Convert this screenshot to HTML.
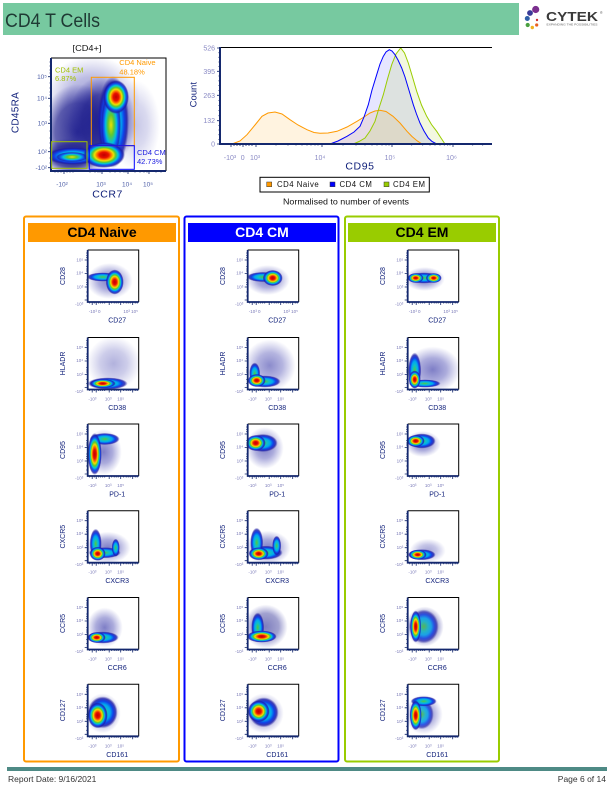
<!DOCTYPE html>
<html><head><meta charset="utf-8">
<style>
html,body{margin:0;padding:0;background:#fff;}
body{width:611px;height:790px;overflow:hidden;}
svg{display:block;}
text{font-family:"Liberation Sans",sans-serif;}
.yt{font-size:4.5px;fill:#7a7ab8;text-anchor:end;}
.xt{font-size:4.5px;fill:#7a7ab8;text-anchor:middle;}
.al{font-size:7px;fill:#10207a;text-anchor:middle;}
.bt{font-size:6.5px;fill:#5060a8;}
.ht{font-size:7px;fill:#8a8ac4;}
</style></head>
<body>
<svg width="611" height="790" viewBox="0 0 611 790" xmlns="http://www.w3.org/2000/svg">
<defs>
<radialGradient id="h">
<stop offset="0" stop-color="#c00000"/>
<stop offset="0.22" stop-color="#e81000"/>
<stop offset="0.34" stop-color="#ff7000"/>
<stop offset="0.45" stop-color="#f0e000"/>
<stop offset="0.56" stop-color="#60c830"/>
<stop offset="0.67" stop-color="#00c8d8"/>
<stop offset="0.78" stop-color="#1050f0"/>
<stop offset="0.9" stop-color="#1a1aa8" stop-opacity="0.8"/>
<stop offset="1" stop-color="#2a2aa0" stop-opacity="0"/>
</radialGradient>
<radialGradient id="c">
<stop offset="0" stop-color="#50c840"/>
<stop offset="0.3" stop-color="#10c0c8"/>
<stop offset="0.5" stop-color="#00a8f0"/>
<stop offset="0.7" stop-color="#1040e8"/>
<stop offset="0.86" stop-color="#1a1aa8" stop-opacity="0.8"/>
<stop offset="1" stop-color="#2a2aa0" stop-opacity="0"/>
</radialGradient>
<radialGradient id="m">
<stop offset="0" stop-color="#f0e000"/>
<stop offset="0.3" stop-color="#60c830"/>
<stop offset="0.55" stop-color="#00c0e0"/>
<stop offset="0.75" stop-color="#1050f0"/>
<stop offset="0.9" stop-color="#1a1aa8" stop-opacity="0.7"/>
<stop offset="1" stop-color="#2a2aa0" stop-opacity="0"/>
</radialGradient>
<radialGradient id="n">
<stop offset="0" stop-color="#2828a0" stop-opacity="0.6"/>
<stop offset="0.5" stop-color="#3030a8" stop-opacity="0.4"/>
<stop offset="1" stop-color="#4040b0" stop-opacity="0"/>
</radialGradient>
<radialGradient id="nd">
<stop offset="0" stop-color="#1c1c8c" stop-opacity="0.95"/>
<stop offset="0.6" stop-color="#22228f" stop-opacity="0.7"/>
<stop offset="1" stop-color="#3030a0" stop-opacity="0"/>
</radialGradient>
<clipPath id="cp"><rect x="0" y="0" width="51" height="52"/></clipPath>
<clipPath id="cpb"><rect x="51" y="58" width="115" height="113"/></clipPath>
<g id="ax">
<path d="M0,0H51V52" fill="none" stroke="#000" stroke-width="1"/>
<path d="M0,0V52H51" fill="none" stroke="#14286e" stroke-width="1.8"/>
<path d="M0,10h-3M0,23.5h-3M0,37h-3M0,50h-3M0,3h-1.5M0,5.5h-1.5M0,7.5h-1.5M0,16.5h-1.5M0,19h-1.5M0,21h-1.5M0,30h-1.5M0,32.5h-1.5M0,34.5h-1.5M0,42h-1.5M0,46h-1.5M4.5,52v3M8.5,52v3M21.5,52v3M33,52v3M45,52v3M2,52v1.5M6.5,52v1.5M11,52v1.5M13,52v1.5M15,52v1.5M17,52v1.5M24,52v1.5M26.5,52v1.5M28.5,52v1.5M30.5,52v1.5M36,52v1.5M38.5,52v1.5M40.5,52v1.5M42.5,52v1.5M47.5,52v1.5M49.5,52v1.5" stroke="#14286e" stroke-width="0.8"/>
</g>
</defs>

<!-- Header -->
<rect x="3" y="3" width="516" height="32" fill="#77c9a0"/>
<text x="5" y="27" font-size="19" fill="#1f3a34" textLength="95" lengthAdjust="spacingAndGlyphs">CD4 T Cells</text>
<!-- Logo -->
<circle cx="535.7" cy="9.5" r="3.6" fill="#7b2f8e"/>
<circle cx="530" cy="13" r="2.9" fill="#3b3b98"/>
<circle cx="527.3" cy="18.5" r="2.5" fill="#2f5fa8"/>
<circle cx="527.7" cy="25" r="2.1" fill="#4aa040"/>
<circle cx="532.3" cy="27.5" r="1.7" fill="#f0b020"/>
<circle cx="536.7" cy="25" r="1.6" fill="#e86020"/>
<circle cx="537" cy="20" r="1.2" fill="#d03030"/>
<text x="546" y="21" font-size="12.5" font-weight="bold" fill="#3a3a3a" textLength="52" lengthAdjust="spacingAndGlyphs">CYTEK</text>
<text x="600" y="14" font-size="3.5" fill="#555">®</text>
<text x="546.5" y="25.5" font-size="2.6" fill="#666" textLength="51" lengthAdjust="spacingAndGlyphs">EXPANDING THE POSSIBILITIES</text>

<!-- Big dot plot -->
<text x="87" y="51" font-size="8.5" fill="#111" text-anchor="middle" textLength="29" lengthAdjust="spacingAndGlyphs">[CD4+]</text>
<g clip-path="url(#cpb)">
<ellipse cx="92" cy="98" rx="48" ry="42" fill="url(#n)" opacity="0.8"/>
<ellipse cx="78" cy="132" rx="38" ry="48" fill="url(#nd)"/>
<ellipse cx="102" cy="122" rx="34" ry="46" fill="url(#nd)"/>
<ellipse cx="70" cy="156" rx="30" ry="18" fill="url(#nd)"/>
<ellipse cx="135" cy="125" rx="25" ry="45" fill="url(#n)" opacity="0.45"/>
<ellipse cx="73" cy="156" rx="27" ry="9" fill="url(#c)"/>
<ellipse cx="72" cy="157" rx="16" ry="5" fill="url(#m)"/>
<ellipse cx="113" cy="122" rx="16" ry="46" fill="url(#c)"/>
<ellipse cx="111" cy="125" rx="10" ry="34" fill="url(#m)"/>
<ellipse cx="116" cy="97" rx="13" ry="17" fill="url(#h)"/>
<ellipse cx="104" cy="155" rx="21" ry="13" fill="url(#h)"/>
</g>
<path d="M51,58H166V171" fill="none" stroke="#000" stroke-width="1"/>
<path d="M51,58V171H166" fill="none" stroke="#14286e" stroke-width="2"/>
<path d="M51,76.7h-3M51,98.3h-3M51,123.3h-3M51,151.7h-3M51,167.7h-3M51,62h-1.5M51,66h-1.5M51,70h-1.5M51,73h-1.5M51,83h-1.5M51,88h-1.5M51,92h-1.5M51,95h-1.5M51,106h-1.5M51,112h-1.5M51,117h-1.5M51,120h-1.5M51,131h-1.5M51,138h-1.5M51,143h-1.5M51,148h-1.5M51,158h-1.5M51,163h-1.5M64,171v3M102,171v3M128,171v3M149,171v3M55,171v1.5M58,171v1.5M61,171v1.5M67,171v1.5M70,171v1.5M73,171v1.5M90,171v1.5M95,171v1.5M98,171v1.5M100,171v1.5M110,171v1.5M115,171v1.5M120,171v1.5M124,171v1.5M126,171v1.5M135,171v1.5M140,171v1.5M144,171v1.5M147,171v1.5M156,171v1.5M161,171v1.5" stroke="#14286e" stroke-width="0.8"/>
<rect x="51.7" y="141.7" width="35.3" height="26.6" fill="none" stroke="#a0c000" stroke-width="1"/>
<rect x="91.3" y="77.3" width="43" height="68.4" fill="none" stroke="#ff9900" stroke-width="1"/>
<rect x="89.3" y="145.7" width="45" height="23.6" fill="none" stroke="#0000ff" stroke-width="1"/>
<text x="55" y="72.3" font-size="7.5" fill="#a0c000">CD4 EM</text>
<text x="55" y="81" font-size="7.5" fill="#a0c000">6.87%</text>
<text x="119.3" y="65" font-size="7.5" fill="#ff9900">CD4 Naive</text>
<text x="119.3" y="74.3" font-size="7.5" fill="#ff9900">48.18%</text>
<text x="137" y="155" font-size="7.5" fill="#2020e0">CD4 CM</text>
<text x="137" y="164" font-size="7.5" fill="#2020e0">42.73%</text>
<text class="bt" x="47" y="79" text-anchor="end">10⁵</text>
<text class="bt" x="47" y="100.5" text-anchor="end">10⁴</text>
<text class="bt" x="47" y="125.5" text-anchor="end">10³</text>
<text class="bt" x="47" y="154" text-anchor="end">10²</text>
<text class="bt" x="47" y="170" text-anchor="end">-10²</text>
<text class="bt" x="62" y="186.5" text-anchor="middle">-10²</text>
<text class="bt" x="101" y="186.5" text-anchor="middle">10³</text>
<text class="bt" x="127" y="186.5" text-anchor="middle">10⁴</text>
<text class="bt" x="148" y="186.5" text-anchor="middle">10⁵</text>
<text x="107.5" y="197.5" font-size="10.5" fill="#10207a" text-anchor="middle" letter-spacing="0.5">CCR7</text>
<text transform="translate(18.5,112.5) rotate(-90)" font-size="10" fill="#10207a" text-anchor="middle" letter-spacing="0.3">CD45RA</text>

<!-- Histogram -->
<polygon points="232,144 240,141 247,134.7 255,125 262,116.3 268,113 275,112 282,114 290,119.7 298,125 307,129.7 314,132.5 320,133.3 328,133 337,131.3 347,127 357,121.3 364,117 370,113 375,111 380,110.3 386,111.5 393,116.3 400,123 407,131.3 412,136.5 417,140.7 422,144" fill="#ffb030" fill-opacity="0.15"/>
<polygon points="330,144 338,141 347,136.3 354,132 360,126.3 364,117 368.3,104.7 372,90 376.7,74.7 380,64 383.3,56.3 386,52 389.3,49.7 392,51 395,54.7 398,60 401.7,68 405,77 408.3,88 411,97 413.3,104.7 416.5,114 420,123 424,131 428.3,138 432,141.5 436.7,144" fill="#4040ff" fill-opacity="0.13"/>
<polygon points="353.3,144 359,141.5 365,138 370,131 375,121.3 379,108 383.3,94.7 387.5,79 391.7,64.7 396,54 400.7,48 404.5,53 408.3,63 412.5,77 416.7,91.3 421.5,105 426.7,116.3 431.5,124.5 436.7,131.3 441,138 445,144" fill="#b0d030" fill-opacity="0.15"/>
<polyline points="232,144 240,141 247,134.7 255,125 262,116.3 268,113 275,112 282,114 290,119.7 298,125 307,129.7 314,132.5 320,133.3 328,133 337,131.3 347,127 357,121.3 364,117 370,113 375,111 380,110.3 386,111.5 393,116.3 400,123 407,131.3 412,136.5 417,140.7 422,144" fill="none" stroke="#ff9900" stroke-width="1"/>
<polyline points="353.3,144 359,141.5 365,138 370,131 375,121.3 379,108 383.3,94.7 387.5,79 391.7,64.7 396,54 400.7,48 404.5,53 408.3,63 412.5,77 416.7,91.3 421.5,105 426.7,116.3 431.5,124.5 436.7,131.3 441,138 445,144" fill="none" stroke="#99cc00" stroke-width="1"/>
<polyline points="330,144 338,141 347,136.3 354,132 360,126.3 364,117 368.3,104.7 372,90 376.7,74.7 380,64 383.3,56.3 386,52 389.3,49.7 392,51 395,54.7 398,60 401.7,68 405,77 408.3,88 411,97 413.3,104.7 416.5,114 420,123 424,131 428.3,138 432,141.5 436.7,144" fill="none" stroke="#0000ff" stroke-width="1"/>
<path d="M220,47.5H492" stroke="#000" stroke-width="1"/>
<path d="M220,47V144H492" fill="none" stroke="#14286e" stroke-width="2"/>
<path d="M220,48h-3M220,71.3h-3M220,95.3h-3M220,120.7h-3M220,144h-3M220,52.7h-1.5M220,57.3h-1.5M220,62h-1.5M220,66.6h-1.5M220,76h-1.5M220,80.8h-1.5M220,85.6h-1.5M220,90.4h-1.5M220,100.4h-1.5M220,105.5h-1.5M220,110.6h-1.5M220,115.7h-1.5M220,125.4h-1.5M220,130h-1.5M220,134.7h-1.5M220,139.4h-1.5M231,144v3M243,144v3M256,144v3M322,144v3M392,144v3M453,144v3M234,144v2M237,144v2M240,144v2M246,144v2M249,144v2M252,144v2M276,144v1.5M288,144v1.5M296,144v1.5M302,144v1.5M307,144v1.5M311,144v1.5M315,144v1.5M318,144v1.5M343,144v1.5M356,144v1.5M365,144v1.5M372,144v1.5M377,144v1.5M382,144v1.5M386,144v1.5M389,144v1.5M411.7,144v1.5M422.7,144v1.5M430,144v1.5M435,144v1.5M440,144v1.5M444.3,144v1.5M447.7,144v1.5M450,144v1.5M472.7,144v1.5M482.7,144v1.5" stroke="#14286e" stroke-width="0.8"/>
<text class="ht" x="215" y="50.5" text-anchor="end">526</text>
<text class="ht" x="215" y="73.8" text-anchor="end">395</text>
<text class="ht" x="215" y="97.8" text-anchor="end">263</text>
<text class="ht" x="215" y="123.2" text-anchor="end">132</text>
<text class="ht" x="215" y="146.5" text-anchor="end">0</text>
<text class="ht" x="230" y="160" text-anchor="middle">-10³</text>
<text class="ht" x="242.7" y="160" text-anchor="middle">0</text>
<text class="ht" x="255" y="160" text-anchor="middle">10³</text>
<text class="ht" x="320" y="160" text-anchor="middle">10⁴</text>
<text class="ht" x="390" y="160" text-anchor="middle">10⁵</text>
<text class="ht" x="451.5" y="160" text-anchor="middle">10⁶</text>
<text x="360" y="169.7" font-size="10.5" fill="#10207a" text-anchor="middle" letter-spacing="0.6">CD95</text>
<text transform="translate(196.7,94.7) rotate(-90)" font-size="9.5" fill="#10207a" text-anchor="middle">Count</text>
<rect x="260" y="177.3" width="169.3" height="14.7" fill="#fff" stroke="#000" stroke-width="1"/>
<rect x="266.7" y="182" width="5" height="4.7" fill="#ff9900" stroke="#333" stroke-width="0.5"/>
<text x="277" y="187" font-size="7.8" fill="#111" letter-spacing="0.5">CD4 Naive</text>
<rect x="330" y="182" width="5" height="4.7" fill="#0000ff" stroke="#333" stroke-width="0.5"/>
<text x="339.5" y="187" font-size="7.8" fill="#111" letter-spacing="0.5">CD4 CM</text>
<rect x="384" y="182" width="5" height="4.7" fill="#99cc00" stroke="#333" stroke-width="0.5"/>
<text x="393" y="187" font-size="7.8" fill="#111" letter-spacing="0.5">CD4 EM</text>
<text x="346" y="204.7" font-size="8.3" fill="#111" text-anchor="middle" textLength="126" lengthAdjust="spacingAndGlyphs">Normalised to number of events</text>

<!-- Panels -->
<rect x="24" y="216.5" width="155" height="545" rx="2" fill="none" stroke="#ff9900" stroke-width="2"/>
<rect x="184.5" y="216.5" width="154" height="545" rx="2" fill="none" stroke="#0000ff" stroke-width="2"/>
<rect x="345" y="216.5" width="154" height="545" rx="2" fill="none" stroke="#99cc00" stroke-width="2"/>
<rect x="28" y="223" width="148" height="19" fill="#ff9900"/>
<rect x="188" y="223" width="148" height="19" fill="#0000ff"/>
<rect x="348" y="223" width="148" height="19" fill="#99cc00"/>
<text x="102" y="237" font-size="14" font-weight="bold" fill="#000" text-anchor="middle">CD4 Naive</text>
<text x="262" y="237" font-size="14" font-weight="bold" fill="#fff" text-anchor="middle">CD4 CM</text>
<text x="422" y="237" font-size="14" font-weight="bold" fill="#000" text-anchor="middle">CD4 EM</text>

<!-- ===== Naive column ===== -->
<g transform="translate(87.7,250)">
<g clip-path="url(#cp)">
<ellipse cx="22" cy="31" rx="23" ry="18" fill="url(#n)"/>
<ellipse cx="15" cy="27" rx="16" ry="4.5" fill="url(#c)"/>
<ellipse cx="27" cy="32" rx="9" ry="12.5" fill="url(#h)"/>
</g>
<use href="#ax"/>
<text class="yt" x="-4.5" y="11.5">10⁵</text><text class="yt" x="-4.5" y="24.5">10⁴</text><text class="yt" x="-4.5" y="38.5">10³</text><text class="yt" x="-4.5" y="55.5">-10³</text>
<text class="xt" x="7" y="63">-10³ 0</text><text class="xt" x="43" y="63">10³ 10⁵</text>
<text class="al" x="29.5" y="72.5">CD27</text>
<text class="al" transform="translate(-22.5,26) rotate(-90)">CD28</text>
</g>
<g transform="translate(87.7,337.5)">
<g clip-path="url(#cp)">
<ellipse cx="26" cy="26" rx="27" ry="27" fill="url(#n)" opacity="0.6"/>
<ellipse cx="20" cy="46" rx="20" ry="6" fill="url(#c)"/>
<ellipse cx="15" cy="46" rx="13" ry="4.5" fill="url(#h)"/>
</g>
<use href="#ax"/>
<text class="yt" x="-4.5" y="11.5">10⁵</text><text class="yt" x="-4.5" y="24.5">10⁴</text><text class="yt" x="-4.5" y="38.5">10³</text><text class="yt" x="-4.5" y="55.5">-10³</text>
<text class="xt" x="4.7" y="63">-10³</text><text class="xt" x="20.5" y="63">10³</text><text class="xt" x="33" y="63">10⁵</text>
<text class="al" x="29.5" y="72.5">CD38</text>
<text class="al" transform="translate(-22.5,26) rotate(-90)">HLADR</text>
</g>
<g transform="translate(87.7,424)">
<g clip-path="url(#cp)">
<ellipse cx="16" cy="28" rx="18" ry="23" fill="url(#n)"/>
<ellipse cx="17" cy="15" rx="15" ry="6" fill="url(#c)"/>
<ellipse cx="7" cy="30" rx="7" ry="21" fill="url(#h)"/>
</g>
<use href="#ax"/>
<text class="yt" x="-4.5" y="11.5">10⁵</text><text class="yt" x="-4.5" y="24.5">10⁴</text><text class="yt" x="-4.5" y="38.5">10³</text><text class="yt" x="-4.5" y="55.5">-10³</text>
<text class="xt" x="4.7" y="63">-10³</text><text class="xt" x="20.5" y="63">10³</text><text class="xt" x="33" y="63">10⁵</text>
<text class="al" x="29.5" y="72.5">PD-1</text>
<text class="al" transform="translate(-22.5,26) rotate(-90)">CD95</text>
</g>
<g transform="translate(87.7,510.7)">
<g clip-path="url(#cp)">
<ellipse cx="20" cy="37" rx="23" ry="16" fill="url(#n)"/>
<ellipse cx="17" cy="42" rx="16" ry="5.5" fill="url(#c)"/>
<ellipse cx="8" cy="33" rx="6" ry="15" fill="url(#c)"/>
<ellipse cx="28" cy="37" rx="4" ry="9" fill="url(#c)"/>
<ellipse cx="10" cy="43" rx="8" ry="7" fill="url(#h)"/>
</g>
<use href="#ax"/>
<text class="yt" x="-4.5" y="11.5">10⁵</text><text class="yt" x="-4.5" y="24.5">10⁴</text><text class="yt" x="-4.5" y="38.5">10³</text><text class="yt" x="-4.5" y="55.5">-10³</text>
<text class="xt" x="4.7" y="63">-10³</text><text class="xt" x="20.5" y="63">10³</text><text class="xt" x="33" y="63">10⁵</text>
<text class="al" x="29.5" y="72.5">CXCR3</text>
<text class="al" transform="translate(-22.5,26) rotate(-90)">CXCR5</text>
</g>
<g transform="translate(87.7,597.5)">
<g clip-path="url(#cp)">
<ellipse cx="17" cy="30" rx="18" ry="20" fill="url(#n)"/>
<ellipse cx="15" cy="40" rx="16" ry="6" fill="url(#c)"/>
<ellipse cx="9" cy="40" rx="9" ry="5.5" fill="url(#h)"/>
</g>
<use href="#ax"/>
<text class="yt" x="-4.5" y="11.5">10⁵</text><text class="yt" x="-4.5" y="24.5">10⁴</text><text class="yt" x="-4.5" y="38.5">10³</text><text class="yt" x="-4.5" y="55.5">-10³</text>
<text class="xt" x="4.7" y="63">-10³</text><text class="xt" x="20.5" y="63">10³</text><text class="xt" x="33" y="63">10⁵</text>
<text class="al" x="29.5" y="72.5">CCR6</text>
<text class="al" transform="translate(-22.5,26) rotate(-90)">CCR5</text>
</g>
<g transform="translate(87.7,684.3)">
<g clip-path="url(#cp)">
<ellipse cx="15" cy="29" rx="18" ry="20" fill="url(#n)"/>
<ellipse cx="15" cy="28" rx="15" ry="16" fill="url(#c)"/>
<ellipse cx="10" cy="31" rx="10" ry="13" fill="url(#h)"/>
</g>
<use href="#ax"/>
<text class="yt" x="-4.5" y="11.5">10⁵</text><text class="yt" x="-4.5" y="24.5">10⁴</text><text class="yt" x="-4.5" y="38.5">10³</text><text class="yt" x="-4.5" y="55.5">-10³</text>
<text class="xt" x="4.7" y="63">-10³</text><text class="xt" x="20.5" y="63">10³</text><text class="xt" x="33" y="63">10⁵</text>
<text class="al" x="29.5" y="72.5">CD161</text>
<text class="al" transform="translate(-22.5,26) rotate(-90)">CD127</text>
</g>

<!-- ===== CM column ===== -->
<g transform="translate(247.7,250)">
<g clip-path="url(#cp)">
<ellipse cx="20" cy="30" rx="22" ry="15" fill="url(#n)"/>
<ellipse cx="15" cy="27" rx="16" ry="5" fill="url(#c)"/>
<ellipse cx="25" cy="28" rx="10" ry="8" fill="url(#h)"/>
</g>
<use href="#ax"/>
<text class="yt" x="-4.5" y="11.5">10⁵</text><text class="yt" x="-4.5" y="24.5">10⁴</text><text class="yt" x="-4.5" y="38.5">10³</text><text class="yt" x="-4.5" y="55.5">-10³</text>
<text class="xt" x="7" y="63">-10³ 0</text><text class="xt" x="43" y="63">10³ 10⁵</text>
<text class="al" x="29.5" y="72.5">CD27</text>
<text class="al" transform="translate(-22.5,26) rotate(-90)">CD28</text>
</g>
<g transform="translate(247.7,337.5)">
<g clip-path="url(#cp)">
<ellipse cx="22" cy="28" rx="26" ry="26" fill="url(#n)" opacity="0.9"/>
<ellipse cx="17" cy="44" rx="16" ry="6" fill="url(#c)"/>
<ellipse cx="7" cy="36" rx="5.5" ry="11" fill="url(#c)"/>
<ellipse cx="9" cy="43" rx="9" ry="6.5" fill="url(#h)"/>
</g>
<use href="#ax"/>
<text class="yt" x="-4.5" y="11.5">10⁵</text><text class="yt" x="-4.5" y="24.5">10⁴</text><text class="yt" x="-4.5" y="38.5">10³</text><text class="yt" x="-4.5" y="55.5">-10³</text>
<text class="xt" x="4.7" y="63">-10³</text><text class="xt" x="20.5" y="63">10³</text><text class="xt" x="33" y="63">10⁵</text>
<text class="al" x="29.5" y="72.5">CD38</text>
<text class="al" transform="translate(-22.5,26) rotate(-90)">HLADR</text>
</g>
<g transform="translate(247.7,424)">
<g clip-path="url(#cp)">
<ellipse cx="17" cy="24" rx="19" ry="21" fill="url(#n)"/>
<ellipse cx="15" cy="19" rx="15" ry="9" fill="url(#c)"/>
<ellipse cx="8" cy="19" rx="10" ry="8" fill="url(#h)"/>
</g>
<use href="#ax"/>
<text class="yt" x="-4.5" y="11.5">10⁵</text><text class="yt" x="-4.5" y="24.5">10⁴</text><text class="yt" x="-4.5" y="38.5">10³</text><text class="yt" x="-4.5" y="55.5">-10³</text>
<text class="xt" x="4.7" y="63">-10³</text><text class="xt" x="20.5" y="63">10³</text><text class="xt" x="33" y="63">10⁵</text>
<text class="al" x="29.5" y="72.5">PD-1</text>
<text class="al" transform="translate(-22.5,26) rotate(-90)">CD95</text>
</g>
<g transform="translate(247.7,510.7)">
<g clip-path="url(#cp)">
<ellipse cx="20" cy="37" rx="23" ry="17" fill="url(#n)"/>
<ellipse cx="18" cy="42" rx="17" ry="7" fill="url(#c)"/>
<ellipse cx="9" cy="32" rx="6.5" ry="15" fill="url(#c)"/>
<ellipse cx="29" cy="35" rx="4.5" ry="10" fill="url(#c)"/>
<ellipse cx="11" cy="43" rx="10" ry="6.5" fill="url(#h)"/>
</g>
<use href="#ax"/>
<text class="yt" x="-4.5" y="11.5">10⁵</text><text class="yt" x="-4.5" y="24.5">10⁴</text><text class="yt" x="-4.5" y="38.5">10³</text><text class="yt" x="-4.5" y="55.5">-10³</text>
<text class="xt" x="4.7" y="63">-10³</text><text class="xt" x="20.5" y="63">10³</text><text class="xt" x="33" y="63">10⁵</text>
<text class="al" x="29.5" y="72.5">CXCR3</text>
<text class="al" transform="translate(-22.5,26) rotate(-90)">CXCR5</text>
</g>
<g transform="translate(247.7,597.5)">
<g clip-path="url(#cp)">
<ellipse cx="18" cy="29" rx="22" ry="22" fill="url(#nd)" opacity="0.6"/>
<ellipse cx="10" cy="30" rx="6.5" ry="15" fill="url(#c)"/>
<ellipse cx="14" cy="39" rx="15" ry="6" fill="url(#h)"/>
</g>
<use href="#ax"/>
<text class="yt" x="-4.5" y="11.5">10⁵</text><text class="yt" x="-4.5" y="24.5">10⁴</text><text class="yt" x="-4.5" y="38.5">10³</text><text class="yt" x="-4.5" y="55.5">-10³</text>
<text class="xt" x="4.7" y="63">-10³</text><text class="xt" x="20.5" y="63">10³</text><text class="xt" x="33" y="63">10⁵</text>
<text class="al" x="29.5" y="72.5">CCR6</text>
<text class="al" transform="translate(-22.5,26) rotate(-90)">CCR5</text>
</g>
<g transform="translate(247.7,684.3)">
<g clip-path="url(#cp)">
<ellipse cx="16" cy="29" rx="20" ry="20" fill="url(#n)"/>
<ellipse cx="16" cy="28" rx="15" ry="15" fill="url(#c)"/>
<ellipse cx="11" cy="27" rx="11" ry="11" fill="url(#h)"/>
</g>
<use href="#ax"/>
<text class="yt" x="-4.5" y="11.5">10⁵</text><text class="yt" x="-4.5" y="24.5">10⁴</text><text class="yt" x="-4.5" y="38.5">10³</text><text class="yt" x="-4.5" y="55.5">-10³</text>
<text class="xt" x="4.7" y="63">-10³</text><text class="xt" x="20.5" y="63">10³</text><text class="xt" x="33" y="63">10⁵</text>
<text class="al" x="29.5" y="72.5">CD161</text>
<text class="al" transform="translate(-22.5,26) rotate(-90)">CD127</text>
</g>

<!-- ===== EM column ===== -->
<g transform="translate(407.7,250)">
<g clip-path="url(#cp)">
<ellipse cx="17" cy="29" rx="20" ry="12" fill="url(#n)"/>
<ellipse cx="16" cy="28" rx="17" ry="5.5" fill="url(#c)"/>
<ellipse cx="8" cy="28" rx="8" ry="5" fill="url(#h)"/>
<ellipse cx="26" cy="28" rx="8" ry="5" fill="url(#h)"/>
</g>
<use href="#ax"/>
<text class="yt" x="-4.5" y="11.5">10⁵</text><text class="yt" x="-4.5" y="24.5">10⁴</text><text class="yt" x="-4.5" y="38.5">10³</text><text class="yt" x="-4.5" y="55.5">-10³</text>
<text class="xt" x="7" y="63">-10³ 0</text><text class="xt" x="43" y="63">10³ 10⁵</text>
<text class="al" x="29.5" y="72.5">CD27</text>
<text class="al" transform="translate(-22.5,26) rotate(-90)">CD28</text>
</g>
<g transform="translate(407.7,337.5)">
<g clip-path="url(#cp)">
<ellipse cx="25" cy="32" rx="28" ry="23" fill="url(#n)"/>
<ellipse cx="17" cy="46" rx="16" ry="4" fill="url(#c)"/>
<ellipse cx="7" cy="33" rx="6.5" ry="18" fill="url(#c)"/>
<ellipse cx="7" cy="42" rx="6" ry="9" fill="url(#h)"/>
</g>
<use href="#ax"/>
<text class="yt" x="-4.5" y="11.5">10⁵</text><text class="yt" x="-4.5" y="24.5">10⁴</text><text class="yt" x="-4.5" y="38.5">10³</text><text class="yt" x="-4.5" y="55.5">-10³</text>
<text class="xt" x="4.7" y="63">-10³</text><text class="xt" x="20.5" y="63">10³</text><text class="xt" x="33" y="63">10⁵</text>
<text class="al" x="29.5" y="72.5">CD38</text>
<text class="al" transform="translate(-22.5,26) rotate(-90)">HLADR</text>
</g>
<g transform="translate(407.7,424)">
<g clip-path="url(#cp)">
<ellipse cx="15" cy="20" rx="18" ry="13" fill="url(#n)"/>
<ellipse cx="14" cy="17" rx="14" ry="7.5" fill="url(#c)"/>
<ellipse cx="8" cy="17" rx="9" ry="6" fill="url(#h)"/>
</g>
<use href="#ax"/>
<text class="yt" x="-4.5" y="11.5">10⁵</text><text class="yt" x="-4.5" y="24.5">10⁴</text><text class="yt" x="-4.5" y="38.5">10³</text><text class="yt" x="-4.5" y="55.5">-10³</text>
<text class="xt" x="4.7" y="63">-10³</text><text class="xt" x="20.5" y="63">10³</text><text class="xt" x="33" y="63">10⁵</text>
<text class="al" x="29.5" y="72.5">PD-1</text>
<text class="al" transform="translate(-22.5,26) rotate(-90)">CD95</text>
</g>
<g transform="translate(407.7,510.7)">
<g clip-path="url(#cp)">
<ellipse cx="20" cy="40" rx="18" ry="12" fill="url(#n)" opacity="0.7"/>
<ellipse cx="14" cy="44" rx="14" ry="5.5" fill="url(#c)"/>
<ellipse cx="10" cy="44" rx="9" ry="5" fill="url(#h)"/>
</g>
<use href="#ax"/>
<text class="yt" x="-4.5" y="11.5">10⁵</text><text class="yt" x="-4.5" y="24.5">10⁴</text><text class="yt" x="-4.5" y="38.5">10³</text><text class="yt" x="-4.5" y="55.5">-10³</text>
<text class="xt" x="4.7" y="63">-10³</text><text class="xt" x="20.5" y="63">10³</text><text class="xt" x="33" y="63">10⁵</text>
<text class="al" x="29.5" y="72.5">CXCR3</text>
<text class="al" transform="translate(-22.5,26) rotate(-90)">CXCR5</text>
</g>
<g transform="translate(407.7,597.5)">
<g clip-path="url(#cp)">
<ellipse cx="17" cy="29" rx="19" ry="20" fill="url(#nd)" opacity="0.7"/>
<ellipse cx="16" cy="29" rx="15" ry="17" fill="url(#c)" opacity="0.8"/>
<ellipse cx="8" cy="29" rx="5.5" ry="16" fill="url(#h)"/>
</g>
<use href="#ax"/>
<text class="yt" x="-4.5" y="11.5">10⁵</text><text class="yt" x="-4.5" y="24.5">10⁴</text><text class="yt" x="-4.5" y="38.5">10³</text><text class="yt" x="-4.5" y="55.5">-10³</text>
<text class="xt" x="4.7" y="63">-10³</text><text class="xt" x="20.5" y="63">10³</text><text class="xt" x="33" y="63">10⁵</text>
<text class="al" x="29.5" y="72.5">CCR6</text>
<text class="al" transform="translate(-22.5,26) rotate(-90)">CCR5</text>
</g>
<g transform="translate(407.7,684.3)">
<g clip-path="url(#cp)">
<ellipse cx="16" cy="30" rx="19" ry="20" fill="url(#n)"/>
<ellipse cx="14" cy="30" rx="12" ry="15" fill="url(#c)" opacity="0.8"/>
<ellipse cx="16" cy="17" rx="13" ry="5" fill="url(#c)"/>
<ellipse cx="8" cy="31" rx="6" ry="15" fill="url(#h)"/>
</g>
<use href="#ax"/>
<text class="yt" x="-4.5" y="11.5">10⁵</text><text class="yt" x="-4.5" y="24.5">10⁴</text><text class="yt" x="-4.5" y="38.5">10³</text><text class="yt" x="-4.5" y="55.5">-10³</text>
<text class="xt" x="4.7" y="63">-10³</text><text class="xt" x="20.5" y="63">10³</text><text class="xt" x="33" y="63">10⁵</text>
<text class="al" x="29.5" y="72.5">CD161</text>
<text class="al" transform="translate(-22.5,26) rotate(-90)">CD127</text>
</g>

<!-- Footer -->
<rect x="7" y="767" width="600" height="4" fill="#4e8a85"/>
<text x="8" y="782" font-size="8.5" fill="#333">Report Date: 9/16/2021</text>
<text x="606" y="782" font-size="8.5" fill="#333" text-anchor="end">Page 6 of 14</text>
</svg>
</body></html>
